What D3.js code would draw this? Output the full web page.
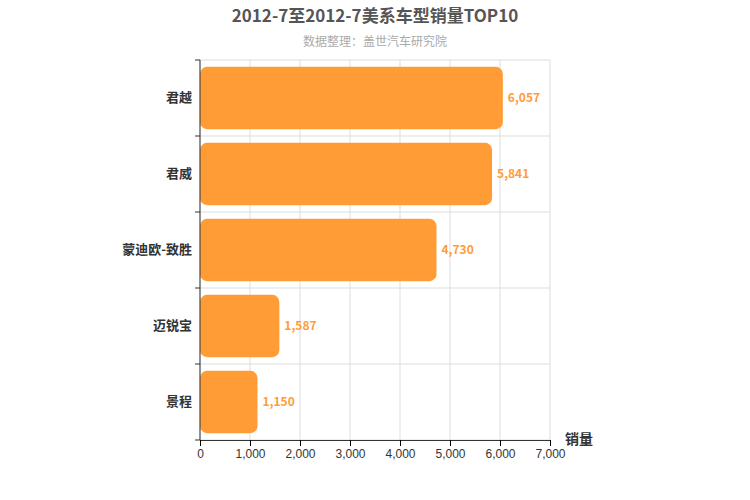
<!DOCTYPE html>
<html><head><meta charset="utf-8">
<script src="https://cdn.jsdelivr.net/npm/d3@7"></script>
<style>body{margin:0;background:#fff;font-family:"Noto Sans CJK SC",sans-serif}</style>
</head><body><svg id="c" width="750" height="500"></svg>
<script>
const categories=["君越","君威","蒙迪欧-致胜","迈锐宝","景程"];
const values=[6057,5841,4730,1587,1150];
const xTicks=[0,1000,2000,3000,4000,5000,6000,7000];
const svg=d3.select("#c");
const m={l:200,r:550,t:60,b:440};
const x=d3.scaleLinear().domain([0,7000]).range([m.l,m.r]);
const y=d3.scaleBand().domain(categories).range([m.t,m.b]).paddingInner(0.18).paddingOuter(0.09);
const grid=svg.append("g");
xTicks.forEach(t=>grid.append("line").attr("x1",x(t)).attr("x2",x(t)).attr("y1",m.t).attr("y2",m.b).attr("stroke","#ddd"));
const step=(m.b-m.t)/categories.length;
d3.range(categories.length+1).forEach(i=>grid.append("line").attr("x1",m.l).attr("x2",m.r).attr("y1",m.t+i*step).attr("y2",m.t+i*step).attr("stroke","#ddd"));
svg.selectAll(".bar").data(values).join("rect").attr("x",x(0)).attr("y",(d,i)=>y(categories[i])).attr("width",d=>x(d)-x(0)).attr("height",y.bandwidth()).attr("rx",7).attr("fill","#ff9c35");
svg.selectAll(".lab").data(values).join("text").attr("x",d=>x(d)+5).attr("y",(d,i)=>y(categories[i])+y.bandwidth()/2+4).attr("fill","#ff9c35").attr("font-size",12).attr("font-weight","bold").text(d=>d3.format(",")(d));
const ax=svg.append("g").attr("transform",`translate(0,${m.b})`).call(d3.axisBottom(x).tickValues(xTicks).tickFormat(d3.format(",")).tickSizeOuter(0));
ax.select(".domain").attr("stroke","#333");ax.selectAll("text").attr("font-size",12).attr("fill","#333");
const ay=svg.append("g").attr("transform",`translate(${m.l},0)`);
ay.append("line").attr("x1",0).attr("x2",0).attr("y1",m.t).attr("y2",m.b).attr("stroke","#333");
d3.range(categories.length+1).forEach(i=>ay.append("line").attr("x1",-5).attr("x2",0).attr("y1",m.t+i*step).attr("y2",m.t+i*step).attr("stroke","#333"));
categories.forEach((c,i)=>ay.append("text").attr("x",-8).attr("y",m.t+(i+0.5)*step+4).attr("text-anchor","end").attr("font-size",13).attr("font-weight","bold").attr("fill","#333").text(c));
svg.append("text").attr("x",565).attr("y",444).attr("font-size",14).attr("font-weight","bold").attr("fill","#333").text("销量");
svg.append("text").attr("x",375).attr("y",22).attr("text-anchor","middle").attr("font-size",17).attr("font-weight","bold").attr("fill","#555").text("2012-7至2012-7美系车型销量TOP10");
svg.append("text").attr("x",375).attr("y",46).attr("text-anchor","middle").attr("font-size",12).attr("fill","#aaa").text("数据整理：盖世汽车研究院");
</script></body></html>
